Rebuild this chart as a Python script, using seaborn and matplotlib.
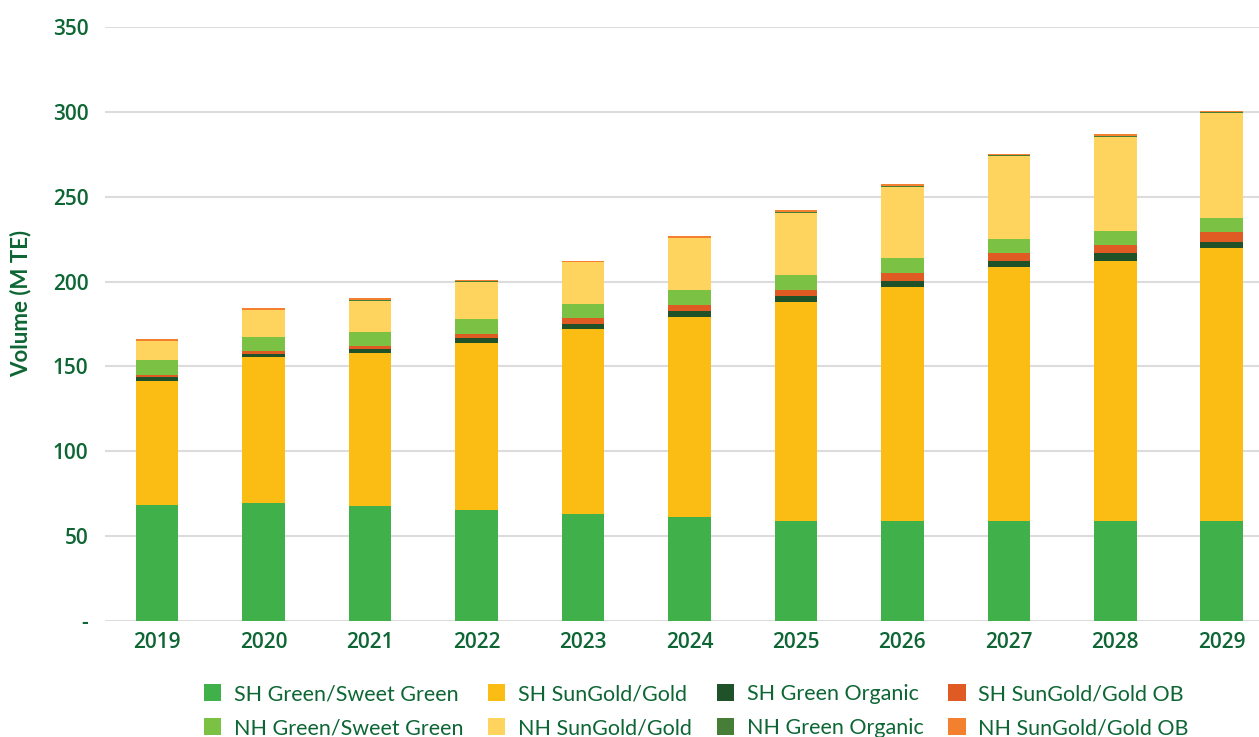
import numpy as np
import pandas as pd
import seaborn as sns
import matplotlib.pyplot as plt
from matplotlib.patches import Patch

sns.set_style("white")
plt.rcParams['font.family'] = ['Lato', 'DejaVu Sans']

years = ['2019', '2020', '2021', '2022', '2023', '2024', '2025', '2026', '2027', '2028', '2029']

# volumes (M TE)
sh_green = [68.5, 69.7, 67.5, 65.5, 63.0, 61.2, 59.0, 59.0, 59.0, 59.0, 59.0]
sh_gold = [73.0, 85.7, 90.3, 98.2, 109.3, 118.0, 128.7, 137.7, 149.3, 153.2, 160.9]
sh_green_org = [2.5, 2.0, 2.7, 2.9, 2.7, 3.5, 3.7, 3.9, 3.9, 4.5, 3.7]
sh_gold_ob = [1.2, 1.6, 1.6, 2.6, 3.3, 3.3, 3.7, 4.7, 4.7, 4.7, 5.5]
nh_green = [8.7, 8.6, 8.4, 8.6, 8.4, 9.0, 8.6, 8.3, 8.4, 8.4, 8.6]
nh_gold = [11.0, 15.7, 18.3, 22.2, 24.7, 30.4, 36.9, 42.4, 48.7, 55.6, 61.5]
nh_green_org = [0.2, 0.2, 0.5, 0.3, 0.3, 0.5, 0.5, 0.5, 0.5, 0.5, 0.5]
nh_gold_ob = [0.8, 0.8, 0.8, 0.8, 0.7, 0.9, 0.9, 0.8, 0.8, 0.8, 0.8]

series = ['SH Green/Sweet Green', 'SH SunGold/Gold', 'SH Green Organic', 'SH SunGold/Gold OB',
          'NH Green/Sweet Green', 'NH SunGold/Gold', 'NH Green Organic', 'NH SunGold/Gold OB']
values = [sh_green, sh_gold, sh_green_org, sh_gold_ob, nh_green, nh_gold, nh_green_org, nh_gold_ob]
colors = ['#3fb04a', '#fbbc14', '#1f5228', '#e05a24', '#7bc143', '#fed45e', '#467e37', '#f2802f']

txt = '#0d6634'

df = pd.DataFrame(dict(zip(series, values)), index=years)
cum = df.cumsum(axis=1)

fig = plt.figure(figsize=(12.59, 7.37), dpi=100)
ax = fig.add_axes([105 / 1259, 1 - 621 / 737, 1 - 105 / 1259, (621 - 27) / 737])

# stacked bars: draw cumulative totals from the top layer down
for name, col in reversed(list(zip(series, colors))):
    sns.barplot(x=years, y=cum[name].values, color=col, width=0.4,
                saturation=1, linewidth=0, ax=ax, zorder=3)

ax.set_ylim(0, 350)
ax.set_xlim(-0.49, 10.35)
ax.set_yticks(range(0, 351, 50))
ax.set_yticklabels(['-'] + [str(v) for v in range(50, 351, 50)])
ax.yaxis.grid(True, color='#dcdcdc', linewidth=1.5, zorder=0)
ax.xaxis.grid(False)
sns.despine(ax=ax, left=True, bottom=True)
ax.tick_params(axis='both', length=0, colors=txt)
ax.tick_params(axis='y', pad=12)
ax.tick_params(axis='x', pad=8)
for lab in ax.get_xticklabels() + ax.get_yticklabels():
    lab.set_fontfamily(['Open Sans', 'DejaVu Sans'])
    lab.set_fontweight('semibold')
    lab.set_fontsize(15)
ax.set_xlabel('')
ax.set_ylabel('Volume (M TE)', fontsize=16, color=txt, fontweight='bold')
ax.yaxis.set_label_coords(-0.064, 0.535)

handles = [Patch(facecolor=c, edgecolor='none') for c in colors]
order = [0, 4, 1, 5, 2, 6, 3, 7]
fig.legend([handles[i] for i in order], [series[i] for i in order],
           loc='center', bbox_to_anchor=(0.553, 0.035), ncol=4, frameon=False,
           fontsize=15.5, labelcolor=txt, handlelength=0.8, handleheight=0.8,
           handletextpad=0.6, columnspacing=1.15, labelspacing=0.65)

fig.savefig('out.png', dpi=100, facecolor='white')
